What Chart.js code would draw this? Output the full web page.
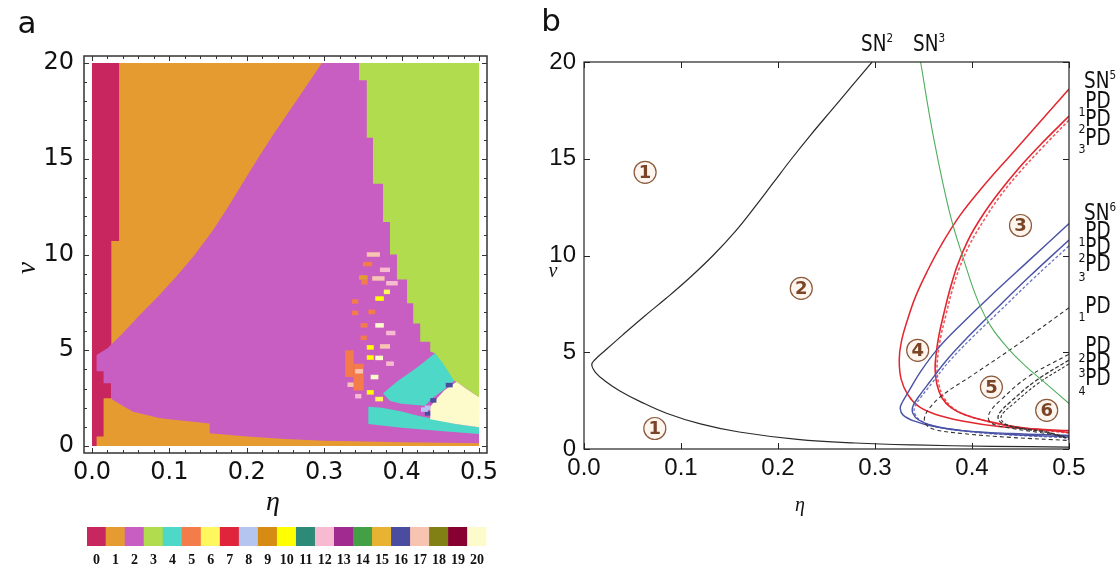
<!DOCTYPE html>
<html>
<head>
<meta charset="utf-8">
<script src="https://cdn.jsdelivr.net/npm/chart.js@4.4.1/dist/chart.umd.min.js"></script>
<style>
body { margin: 0; background: #fff; width: 1117px; height: 572px; position: relative; overflow: hidden; font-family: "DejaVu Sans", sans-serif; }
canvas { position: absolute; }
.t { position: absolute; white-space: nowrap; line-height: 1; transform: translate(-50%, -50%); color: #111; }
.cd { font-family: "DejaVu Sans", sans-serif; font-size: 23px; transform: translate(-50%, -50%) scaleX(0.8); }
.cd sup { font-size: 13px; vertical-align: 9px; }
.sub { font-family: "DejaVu Sans", sans-serif; font-size: 13px; transform: translate(-50%, -50%) scaleX(0.85); }
.greek { font-family: "Liberation Serif", serif; font-style: italic; }
</style>
</head>
<body>
<canvas id="mapChart" style="left:0;top:0" width="520" height="520"></canvas>
<canvas id="barChart" style="left:87px;top:527px" width="403" height="45"></canvas>
<canvas id="curveChart" style="left:530px;top:0" width="587" height="572"></canvas>

<div class="t" style="left:27px;top:22px;font-size:31px">a</div>
<div class="t" style="left:551px;top:20px;font-size:31px">b</div>
<div class="t greek" style="left:273px;top:501px;font-size:28px">η</div>
<div class="t greek" style="left:26px;top:268px;font-size:27px;transform:translate(-50%,-50%) rotate(-90deg)">ν</div>
<div class="t greek" style="left:800px;top:504px;font-size:20px">η</div>
<div class="t greek" style="left:553px;top:270px;font-size:20px">ν</div>

<div class="t cd" style="left:877px;top:43px">SN<sup>2</sup></div>
<div class="t cd" style="left:929px;top:43px">SN<sup>3</sup></div>

<div class="t cd" style="left:1100px;top:80px">SN<sup>5</sup></div>
<div class="t cd" style="left:1098px;top:100px">PD</div>
<div class="t sub" style="left:1082px;top:111px">1</div>
<div class="t cd" style="left:1098px;top:118px">PD</div>
<div class="t sub" style="left:1082px;top:128px">2</div>
<div class="t cd" style="left:1098px;top:137px">PD</div>
<div class="t sub" style="left:1082px;top:148px">3</div>

<div class="t cd" style="left:1100px;top:212px">SN<sup>6</sup></div>
<div class="t cd" style="left:1098px;top:230px">PD</div>
<div class="t sub" style="left:1082px;top:241px">1</div>
<div class="t cd" style="left:1098px;top:246px">PD</div>
<div class="t sub" style="left:1082px;top:257px">2</div>
<div class="t cd" style="left:1098px;top:263px">PD</div>
<div class="t sub" style="left:1082px;top:276px">3</div>

<div class="t cd" style="left:1098px;top:305px">PD</div>
<div class="t sub" style="left:1082px;top:316px">1</div>
<div class="t cd" style="left:1098px;top:345px">PD</div>
<div class="t sub" style="left:1082px;top:357px">2</div>
<div class="t cd" style="left:1098px;top:361px">PD</div>
<div class="t sub" style="left:1082px;top:372px">3</div>
<div class="t cd" style="left:1098px;top:377px">PD</div>
<div class="t sub" style="left:1082px;top:390px">4</div>

<script>
// axis ticks
const etaTicks = [0, 0.1, 0.2, 0.3, 0.4, 0.5];
const nuTicks = [0, 5, 10, 15, 20];

// attractor classes 0..20 and their colours
const classLabels = ['0','1','2','3','4','5','6','7','8','9','10','11','12','13','14','15','16','17','18','19','20'];
const classColors = ['#c8265f','#e69b31','#c95ec2','#b1dc4d','#4dd8c7','#f47b4a','#fff75e','#e0243c','#b4c6f0','#d68b12',
                     '#ffff00','#2e8a78','#f8bad0','#a02a90','#44a044','#e8b232','#4a4ca0','#f8c4b2','#808014','#880032','#fdfbcc'];

// region outlines (eta, nu) for panel a, painted in this order
const regionOrange = [[0,0],[0,20],[0.5,20],[0.5,0]];
const regionCrimson = [[0,0],[0,20],[0.035,20],[0.035,10.7],[0.025,10.7],[0.025,2.49],[0.015,2.49],[0.015,0.49],[0.006,0.49],[0.006,0]];
const regionMagenta = [[0.297,20],[0.5,20],[0.5,0.14],[0.4,0.19],[0.3,0.27],[0.25,0.36],[0.2,0.5],[0.152,0.66],[0.152,1.18],
  [0.1,1.4],[0.088,1.45],[0.053,1.79],[0.027,2.4],[0.025,2.49],[0.025,3.27],[0.015,3.27],[0.015,3.9],[0.006,3.9],[0.006,4.75],
  [0.02,5.1],[0.04,5.9],[0.062,6.85],[0.085,7.8],[0.109,8.85],[0.133,10.0],[0.156,11.25],[0.176,12.5],[0.195,13.75],
  [0.214,15.0],[0.234,16.25],[0.255,17.5],[0.276,18.75]];
const regionGreen = [[0.345,20],[0.5,20],[0.5,2.55],[0.471,3.35],[0.466,3.45],[0.443,4.84],[0.437,4.93],[0.437,5.45],[0.424,5.45],
  [0.424,6.4],[0.415,6.4],[0.415,7.45],[0.407,7.45],[0.407,8.7],[0.394,8.7],[0.394,10],[0.385,10],[0.385,11.7],[0.376,11.7],
  [0.376,13.7],[0.363,13.7],[0.363,16.1],[0.355,16.1],[0.355,19.1],[0.345,19.1]];
const regionCyanTop = [[0.443,4.84],[0.452,4.4],[0.46,3.9],[0.468,3.4],[0.455,2.95],[0.44,2.5],[0.43,2.1],[0.40,2.2],[0.385,2.35],
  [0.376,2.75],[0.395,3.4],[0.42,4.1]];
const regionCyanBand = [[0.357,2.05],[0.375,2.0],[0.40,1.8],[0.424,1.55],[0.437,1.45],[0.47,1.15],[0.5,0.98],[0.5,0.62],[0.45,0.78],
  [0.40,0.95],[0.357,1.15]];
const regionCream = [[0.471,3.35],[0.485,2.95],[0.5,2.55],[0.5,0.98],[0.47,1.15],[0.437,1.4],[0.437,2.05],[0.445,2.45],[0.455,2.9]];
const blockRedA = [[0.327,5.0],[0.338,5.0],[0.338,3.6],[0.327,3.6]];
const blockRedB = [[0.338,4.3],[0.351,4.3],[0.351,2.9],[0.338,2.9]];
const regions = [
  [regionOrange, 1], [regionCrimson, 0], [regionMagenta, 2], [regionGreen, 3],
  [regionCyanTop, 4], [regionCyanBand, 4], [regionCream, 20], [blockRedA, 5], [blockRedB, 5]
];

// short runs of other classes: [eta from, eta to, nu, class]
const speckles = [
  [0.355,0.372,10.0,17],[0.350,0.362,9.5,5],[0.372,0.385,9.2,12],[0.345,0.356,8.8,1],[0.362,0.378,8.75,17],
  [0.380,0.395,8.5,12],[0.348,0.356,8.55,5],[0.377,0.385,8.05,6],[0.336,0.344,7.55,5],[0.366,0.377,7.7,10],
  [0.357,0.366,7.0,5],[0.336,0.344,6.95,5],[0.366,0.377,6.3,20],[0.347,0.356,6.3,5],[0.380,0.392,5.9,12],
  [0.347,0.355,5.65,5],[0.355,0.364,5.15,10],[0.372,0.385,5.2,17],[0.355,0.364,4.62,10],[0.366,0.376,4.6,20],
  [0.380,0.390,4.3,12],[0.340,0.350,3.9,17],[0.360,0.370,3.6,20],[0.355,0.364,2.8,10],[0.366,0.376,2.45,6],
  [0.437,0.445,2.38,16],[0.457,0.466,3.18,16],[0.430,0.437,1.7,16],[0.430,0.437,2.0,8],[0.425,0.434,1.9,8],
  [0.330,0.338,3.2,17],[0.340,0.348,2.6,12]
];

// bifurcation curves of panel b (eta, nu)
const sn2Curve = [[0.297,20],[0.276,18.75],[0.255,17.5],[0.234,16.25],[0.214,15.0],[0.195,13.75],[0.176,12.5],[0.156,11.25],
  [0.133,10.0],[0.109,8.85],[0.085,7.8],[0.062,6.85],[0.04,5.9],[0.022,5.1],[0.011,4.6],[0.008,4.35],[0.012,3.95],[0.022,3.5],
  [0.037,3.0],[0.058,2.45],[0.085,1.85],[0.12,1.3],[0.16,0.88],[0.22,0.5],[0.28,0.31],[0.34,0.21],[0.42,0.14],[0.5,0.1]];
const sn3Curve = [[0.347,20],[0.36,16.2],[0.377,12.2],[0.392,9.7],[0.406,7.67],[0.42,6.3],[0.439,5.1],[0.455,4.3],[0.47,3.65],[0.5,2.35]];
const sn5Curve = [[0.5,18.6],[0.47,16.9],[0.44,15.2],[0.412,13.6],[0.388,12.1],[0.369,10.6],[0.354,9.2],[0.342,7.9],[0.333,6.6],
  [0.327,5.5],[0.325,4.6],[0.327,3.6],[0.334,2.8],[0.345,2.2],[0.362,1.8],[0.39,1.45],[0.43,1.15],[0.47,1.02],[0.5,0.95]];
const pdRedA = [[0.5,17.2],[0.472,15.8],[0.448,14.5],[0.427,13.2],[0.41,12.0],[0.396,10.8],[0.385,9.5],[0.377,8.2],[0.371,7.0],
  [0.366,5.9],[0.363,4.9],[0.362,4.1],[0.364,3.3],[0.369,2.65],[0.378,2.15],[0.392,1.78],[0.415,1.45],[0.445,1.15],[0.5,0.86]];
const pdRedB = [[0.5,17.0],[0.473,15.6],[0.449,14.3],[0.428,13.0],[0.412,11.8],[0.398,10.6],[0.387,9.35],[0.379,8.1],[0.373,6.9],
  [0.368,5.85],[0.365,4.9],[0.364,4.1],[0.366,3.3],[0.371,2.65],[0.38,2.13],[0.394,1.75],[0.417,1.42],[0.447,1.12],[0.5,0.83]];
const sn6Curve = [[0.5,11.65],[0.46,9.8],[0.42,7.95],[0.39,6.5],[0.365,5.2],[0.347,4.0],[0.335,3.0],[0.328,2.4],[0.326,2.1],
  [0.329,1.75],[0.34,1.45],[0.36,1.17],[0.39,0.95],[0.44,0.8],[0.5,0.7]];
const pdBlueA = [[0.5,10.8],[0.46,8.95],[0.425,7.25],[0.397,5.85],[0.374,4.6],[0.357,3.5],[0.345,2.7],[0.339,2.2],[0.339,1.85],
  [0.345,1.5],[0.36,1.2],[0.39,0.95],[0.44,0.75],[0.5,0.62]];
const pdBlueB = [[0.5,10.5],[0.461,8.7],[0.427,7.05],[0.399,5.7],[0.376,4.5],[0.359,3.42],[0.347,2.65],[0.341,2.18],[0.341,1.83],
  [0.347,1.47],[0.362,1.17],[0.392,0.92],[0.442,0.72],[0.5,0.58]];
const pdBlack1 = [[0.5,7.3],[0.45,5.5],[0.40,3.8],[0.37,2.8],[0.356,2.1],[0.351,1.6],[0.353,1.25],[0.362,1.0],[0.39,0.8],[0.44,0.6],[0.5,0.44]];
const pdBlack2 = [[0.5,4.9],[0.457,3.7],[0.43,2.55],[0.419,1.95],[0.417,1.55],[0.422,1.28],[0.442,1.06],[0.47,0.85],[0.5,0.62]];
const pdBlack3 = [[0.5,4.6],[0.465,3.5],[0.44,2.45],[0.429,1.9],[0.427,1.57],[0.432,1.3],[0.45,1.08],[0.475,0.9],[0.5,0.55]];
const pdBlack4 = [[0.5,4.4],[0.467,3.35],[0.443,2.35],[0.432,1.85],[0.43,1.55],[0.435,1.28],[0.452,1.05],[0.477,0.86],[0.5,0.5]];

// numbered regions in panel b
const regionTags = ['1','2','3','4','5','6','1'];
const regionEta = [0.063, 0.224, 0.45, 0.344, 0.42, 0.477, 0.073];
const regionNu = [14.3, 8.3, 11.55, 5.1, 3.2, 2.0, 1.06];

const pts = list => list.map(([x, y]) => ({x, y}));

// frame with inward tick marks on all four sides
const frameTicks = {
  id: 'frameTicks',
  afterDraw(chart, args, o) {
    const {ctx, chartArea: a, scales: {x, y}} = chart;
    ctx.save();
    ctx.strokeStyle = o.color;
    ctx.lineWidth = o.width;
    ctx.strokeRect(a.left, a.top, a.right - a.left, a.bottom - a.top);
    ctx.lineWidth = 1;
    const marks = (vals, len) => {
      ctx.beginPath();
      vals.x.forEach(v => {
        const px = Math.round(x.getPixelForValue(v)) + 0.5;
        ctx.moveTo(px, a.bottom); ctx.lineTo(px, a.bottom - len);
        ctx.moveTo(px, a.top); ctx.lineTo(px, a.top + len);
      });
      vals.y.forEach(v => {
        const py = Math.round(y.getPixelForValue(v)) + 0.5;
        ctx.moveTo(a.left, py); ctx.lineTo(a.left + len, py);
        ctx.moveTo(a.right, py); ctx.lineTo(a.right - len, py);
      });
      ctx.stroke();
    };
    marks({x: etaTicks, y: nuTicks}, o.major);
    if (o.minor) marks(o.minor, o.minorLen);
    ctx.restore();
  }
};

// circled region numbers
const regionMarks = {
  id: 'regionMarks',
  afterDatasetsDraw(chart) {
    const {ctx, scales: {x, y}} = chart;
    ctx.save();
    regionTags.forEach((tag, i) => {
      const px = x.getPixelForValue(regionEta[i]);
      const py = y.getPixelForValue(regionNu[i]);
      ctx.beginPath();
      ctx.arc(px, py, 11, 0, Math.PI * 2);
      ctx.fillStyle = '#fff5ef';
      ctx.fill();
      ctx.strokeStyle = '#8a5a3c';
      ctx.lineWidth = 1.2;
      ctx.stroke();
      ctx.fillStyle = '#7a4426';
      ctx.font = 'bold 18px "DejaVu Sans"';
      ctx.textAlign = 'center';
      ctx.textBaseline = 'middle';
      ctx.fillText(tag, px, py + 1);
    });
    ctx.restore();
  }
};

const minorEta = [], minorNu = [];
for (let v = 0; v <= 0.5001; v += 0.02) minorEta.push(+v.toFixed(2));
for (let v = 0; v <= 20; v += 1) minorNu.push(v);

// panel a: class map
const mapSets = regions.map(([shape, c]) => ({
  data: pts([...shape, shape[0]]),
  showLine: true, fill: 'shape', tension: 0,
  backgroundColor: classColors[c], borderColor: classColors[c], borderWidth: 0, pointRadius: 0
}));
speckles.forEach(([e0, e1, nu, c]) => mapSets.push({
  data: pts([[e0, nu], [e1, nu]]),
  showLine: true, fill: false, borderColor: classColors[c], borderWidth: 4.5,
  borderCapStyle: 'butt', pointRadius: 0
}));
mapSets.forEach((d, i) => { d.order = mapSets.length - i; });

new Chart(document.getElementById('mapChart'), {
  type: 'scatter',
  data: { datasets: mapSets },
  plugins: [frameTicks],
  options: {
    responsive: false, animation: false,
    layout: { padding: { left: 0, right: 33, top: 56, bottom: 0 } },
    plugins: {
      legend: { display: false }, tooltip: { enabled: false },
      frameTicks: { color: '#333', width: 1.5, major: 5, minor: { x: minorEta, y: minorNu }, minorLen: 3 }
    },
    scales: {
      x: {
        type: 'linear', min: -0.0103, max: 0.5103,
        afterBuildTicks: s => { s.ticks = etaTicks.map(v => ({ value: v })); },
        afterFit: s => { s.height = 67; },
        grid: { display: false, drawTicks: false }, border: { display: false },
        ticks: { color: '#111', padding: 5, font: { family: 'DejaVu Sans', size: 24 }, callback: v => v.toFixed(1) }
      },
      y: {
        type: 'linear', min: -0.366, max: 20.366,
        afterBuildTicks: s => { s.ticks = nuTicks.map(v => ({ value: v })); },
        afterFit: s => { s.width = 84; },
        grid: { display: false, drawTicks: false }, border: { display: false },
        ticks: { color: '#111', padding: 10, font: { family: 'DejaVu Sans', size: 24 } }
      }
    }
  }
});

// colour key below panel a
new Chart(document.getElementById('barChart'), {
  type: 'bar',
  data: {
    labels: classLabels,
    datasets: [{ data: classLabels.map(() => 1), backgroundColor: classColors, barPercentage: 1, categoryPercentage: 1 }]
  },
  options: {
    responsive: false, animation: false,
    layout: { padding: 0 },
    plugins: { legend: { display: false }, tooltip: { enabled: false } },
    scales: {
      x: {
        afterFit: s => { s.height = 26; },
        grid: { display: false, drawTicks: false }, border: { display: false },
        ticks: { color: '#111', padding: 6, maxRotation: 0, autoSkip: false, font: { family: 'Liberation Serif', size: 14, weight: 'bold' } }
      },
      y: { display: false, min: 0, max: 1 }
    }
  }
});

// panel b: bifurcation curves
const curve = (list, color, width, dash) => ({
  data: pts(list), showLine: true, fill: false, tension: 0.4,
  borderColor: color, borderWidth: width, borderDash: dash || [], pointRadius: 0
});

new Chart(document.getElementById('curveChart'), {
  type: 'scatter',
  data: {
    datasets: [
      curve(sn2Curve, '#2a2a2a', 1.2),
      curve(sn3Curve, '#4fae5c', 1.1),
      curve(pdBlack1, '#333', 1.1, [4, 3]),
      curve(pdBlack2, '#333', 1.1, [4, 3]),
      curve(pdBlack3, '#333', 1.3, [4, 2]),
      curve(pdBlack4, '#333', 1.1, [3, 2]),
      curve(sn6Curve, '#4a52a6', 1.4),
      curve(pdBlueA, '#4a52a6', 1.4),
      curve(pdBlueB, '#6b74c0', 1.3, [3, 2]),
      curve(sn5Curve, '#e2262f', 1.5),
      curve(pdRedA, '#e2262f', 1.6),
      curve(pdRedB, '#f05a60', 1.6, [3, 2])
    ]
  },
  plugins: [frameTicks, regionMarks],
  options: {
    responsive: false, animation: false,
    layout: { padding: { left: 0, right: 48, top: 62, bottom: 0 } },
    plugins: {
      legend: { display: false }, tooltip: { enabled: false },
      frameTicks: { color: '#222', width: 1.2, major: 6 }
    },
    scales: {
      x: {
        type: 'linear', min: 0, max: 0.5,
        afterBuildTicks: s => { s.ticks = etaTicks.map(v => ({ value: v })); },
        afterFit: s => { s.height = 123; },
        grid: { display: false, drawTicks: false }, border: { display: false },
        ticks: { color: '#111', padding: 5, font: { family: 'Liberation Sans', size: 24 }, callback: v => v.toFixed(1) }
      },
      y: {
        type: 'linear', min: 0, max: 20,
        afterBuildTicks: s => { s.ticks = nuTicks.map(v => ({ value: v })); },
        afterFit: s => { s.width = 54; },
        grid: { display: false, drawTicks: false }, border: { display: false },
        ticks: { color: '#111', padding: 8, font: { family: 'Liberation Sans', size: 24 } }
      }
    }
  }
});
</script>
</body>
</html>
